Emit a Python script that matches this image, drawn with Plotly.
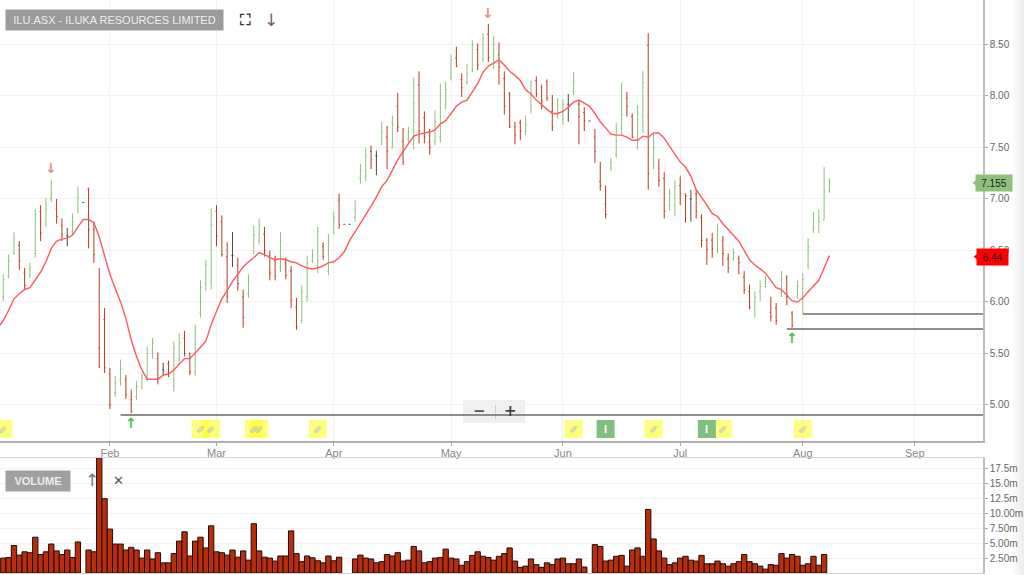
import numpy as np
import plotly.graph_objects as go

# ============================================
# DATA (one entry per trading slot)
# ============================================
highs = [6.27,6.46,6.68,6.59,6.33,6.38,6.90,6.94,7.01,7.19,7.00,6.81,6.72,6.86,7.12,6.965,7.11,6.78,6.33,5.94,
         5.36,5.28,5.44,5.29,5.15,5.23,5.31,5.57,5.65,5.51,5.41,5.43,5.62,5.70,5.72,5.51,5.78,6.21,6.41,6.91,
         6.94,6.84,6.58,6.68,6.43,6.12,6.27,6.74,6.81,6.73,6.50,6.45,6.68,6.43,6.35,6.04,6.16,6.45,6.51,6.73,
         6.58,6.66,6.88,7.05,6.754,6.754,6.99,7.34,7.50,7.52,7.47,7.75,7.71,7.81,8.03,7.69,7.70,8.18,8.24,7.85,
         7.68,7.86,8.12,8.14,8.40,8.48,8.22,8.31,8.54,8.51,8.61,8.70,8.58,8.52,8.24,8.04,7.75,7.77,7.81,8.15,
         8.19,8.11,8.16,8.01,7.98,7.97,8.02,8.23,7.96,7.89,7.757,7.68,7.36,7.13,7.40,7.74,8.13,8.04,7.83,7.91,
         8.24,8.61,7.63,7.39,7.26,7.10,7.18,7.22,7.05,7.09,7.09,6.85,6.62,6.67,6.76,6.64,6.47,6.52,6.45,6.30,
         6.17,6.10,6.21,6.25,6.05,5.99,6.30,6.26,5.91,6.21,6.28,6.62,6.87,6.90,7.31,7.20]
lows = [6.01,6.23,6.46,6.31,6.12,6.23,6.43,6.59,6.73,6.97,6.76,6.59,6.54,6.65,6.86,6.965,6.52,6.38,5.36,5.31,
        4.96,5.08,5.19,5.06,4.92,5.05,5.15,5.23,5.45,5.20,5.28,5.27,5.13,5.40,5.47,5.29,5.28,5.85,6.11,6.12,
        6.54,6.44,5.99,6.34,6.11,5.75,6.04,6.46,6.56,6.44,6.21,6.21,6.29,6.22,5.94,5.73,5.79,6.00,6.38,6.28,
        6.41,6.26,6.65,6.71,6.754,6.754,6.78,7.15,7.17,7.29,7.23,7.52,7.29,7.49,7.65,7.33,7.55,7.48,7.54,7.54,
        7.43,7.52,7.55,7.87,8.15,8.28,7.99,8.11,8.23,8.25,8.33,8.33,8.26,8.11,7.82,7.69,7.53,7.57,7.62,7.83,
        7.99,7.87,7.95,7.66,7.78,7.72,7.75,8.01,7.53,7.66,7.757,7.35,7.08,6.81,7.27,7.40,7.62,7.80,7.59,7.48,
        7.64,7.09,7.29,7.12,6.81,6.89,6.83,6.94,6.77,6.78,6.81,6.53,6.36,6.43,6.47,6.35,6.28,6.40,6.27,6.08,
        5.93,5.85,6.01,6.14,5.81,5.78,6.05,5.97,5.75,6.03,5.89,6.32,6.67,6.67,6.79,7.06]
opens = [6.05,6.25,6.47,6.55,6.28,6.26,6.47,6.88,6.76,7.00,6.90,6.74,6.64,6.68,6.90,6.965,7.10,6.70,5.55,5.83,
         5.30,5.12,5.25,5.25,5.05,5.08,5.17,5.26,5.50,5.45,5.34,5.40,5.18,5.45,5.65,5.50,5.32,5.90,6.18,6.20,
         6.88,6.78,6.44,6.45,6.36,6.05,6.08,6.50,6.60,6.66,6.45,6.40,6.33,6.38,6.30,5.95,5.82,6.05,6.40,6.35,
         6.54,6.30,6.68,6.99,6.754,6.754,6.82,7.20,7.22,7.46,7.42,7.58,7.60,7.50,7.90,7.56,7.58,7.53,8.11,7.79,
         7.55,7.56,7.60,7.92,8.18,8.37,8.16,8.13,8.25,8.45,8.36,8.60,8.31,8.40,8.17,8.02,7.70,7.74,7.65,7.90,
         8.15,8.08,8.14,7.85,7.82,7.77,7.92,8.05,7.92,7.84,7.757,7.60,7.17,6.95,7.30,7.43,7.70,7.98,7.80,7.50,
         7.80,8.49,7.40,7.30,7.20,6.94,6.94,7.13,7.05,7.00,7.05,6.82,6.60,6.60,6.51,6.60,6.42,6.42,6.42,6.24,
         6.10,5.93,6.10,6.15,5.90,5.94,6.09,6.24,5.89,6.05,6.03,6.36,6.70,6.70,6.80,7.08]
closes = [6.22,6.40,6.62,6.40,6.16,6.33,6.85,6.67,6.90,7.05,6.83,6.66,6.64,6.78,7.02,6.965,6.70,6.46,5.37,5.36,
          5.00,5.22,5.35,5.10,4.94,5.18,5.26,5.50,5.60,5.26,5.34,5.30,5.55,5.60,5.50,5.32,5.72,6.14,6.36,6.75,
          6.64,6.46,6.05,6.45,6.18,5.85,6.20,6.65,6.75,6.50,6.28,6.25,6.60,6.26,6.02,5.76,6.09,6.38,6.46,6.68,
          6.44,6.60,6.82,6.75,6.754,6.754,6.90,7.28,7.42,7.38,7.42,7.65,7.46,7.72,7.70,7.36,7.65,7.93,7.66,7.60,
          7.50,7.75,8.00,8.06,8.35,8.29,8.08,8.22,8.50,8.30,8.56,8.37,8.50,8.28,7.90,7.70,7.62,7.66,7.72,8.03,
          8.02,7.95,7.98,7.70,7.91,7.92,7.92,8.14,7.80,7.76,7.757,7.46,7.13,6.85,7.36,7.66,7.82,7.90,7.60,7.82,
          8.13,7.25,7.50,7.18,6.88,7.05,7.12,7.05,7.03,7.00,6.88,6.60,6.51,6.52,6.70,6.47,6.33,6.48,6.38,6.12,
          5.95,6.04,6.15,6.20,5.86,5.82,6.22,6.05,5.77,6.15,6.22,6.53,6.72,6.78,7.08,7.17]
# the average runs on from one slot before the first bar, off the left edge
moving_avg = [5.75,5.82,5.92,6.03,6.08,6.12,6.14,6.21,6.29,6.39,6.52,6.59,6.61,6.62,6.65,6.73,6.80,6.80,6.77,6.63,6.46,
              6.27,6.13,6.00,5.84,5.63,5.47,5.34,5.25,5.25,5.25,5.29,5.30,5.34,5.40,5.45,5.45,5.50,5.56,5.62,5.78,
              5.91,6.03,6.11,6.20,6.27,6.34,6.39,6.43,6.48,6.46,6.43,6.41,6.42,6.41,6.39,6.38,6.35,6.33,6.32,6.33,
              6.35,6.38,6.39,6.43,6.49,6.60,6.68,6.76,6.85,6.93,7.02,7.12,7.18,7.28,7.38,7.46,7.54,7.61,7.63,7.64,
              7.65,7.67,7.73,7.76,7.83,7.90,7.94,7.96,8.04,8.12,8.23,8.29,8.32,8.35,8.30,8.24,8.20,8.15,8.06,8.02,
              7.96,7.91,7.87,7.83,7.83,7.85,7.89,7.94,7.96,7.93,7.90,7.83,7.75,7.69,7.63,7.62,7.62,7.60,7.57,7.57,
              7.61,7.60,7.64,7.64,7.59,7.51,7.43,7.36,7.31,7.22,7.09,7.02,6.94,6.86,6.83,6.76,6.70,6.64,6.59,6.50,
              6.41,6.36,6.32,6.28,6.21,6.14,6.12,6.07,6.01,6.00,6.04,6.10,6.16,6.21,6.33,6.45]
# millions of shares, None on the days with no trade
volumes = [2.5,2.6,4.6,3.0,3.55,3.4,6.0,3.1,3.55,4.85,3.7,3.1,3.85,2.6,5.2,None,3.85,3.55,19.3,12.45,
           7.35,4.85,4.85,3.85,4.3,3.85,2.5,3.85,2.35,3.4,1.7,1.7,3.25,5.35,6.9,2.85,5.35,6.0,4.2,7.9,
           3.55,3.4,3.0,3.85,2.65,3.7,2.15,8.25,3.7,2.65,2.5,2.0,2.85,2.85,7.05,3.25,1.9,2.85,2.55,2.05,
           1.7,2.85,2.05,2.65,None,None,2.35,3.0,2.5,2.35,1.7,1.9,3.1,2.85,3.4,2.0,2.15,4.45,3.7,1.7,
           1.9,2.5,2.6,4.0,2.5,2.35,1.3,1.9,2.95,3.55,2.8,2.6,2.15,2.8,3.25,4.2,2.0,0.95,1.15,2.35,
           1.4,0.95,1.7,1.4,2.35,2.5,1.55,1.55,2.35,1.0,None,4.75,4.45,2.0,2.15,2.8,2.95,1.15,3.85,4.2,
           2.8,10.65,5.7,3.7,2.5,1.4,1.7,2.5,2.8,2.15,2.0,2.95,1.55,1.55,2.0,1.55,1.15,1.55,1.9,3.1,
           1.9,1.55,1.15,0.65,1.4,1.3,3.25,2.5,3.1,2.8,1.3,1.55,2.8,1.3,3.1,None]

month_labels = ["Feb", "Mar", "Apr", "May", "Jun", "Jul", "Aug", "Sep"]
month_slots = [20, 40, 62, 84, 105, 127, 150, 171]
price_ticks = [5.0, 5.5, 6.0, 6.5, 7.0, 7.5, 8.0, 8.5]
volume_ticks = [2.5, 5, 7.5, 10, 12.5, 15, 17.5]
volume_tick_text = ["2.50m", "5.00m", "7.50m", "10.00m", "12.5m", "15.0m", "17.5m"]

support_levels = [4.903, 5.883, 5.738]
support_starts = [22, 150, 147]
note_slots = [0, 37, 39, 47, 48, 59, 107, 122, 135, 150]
info_slots = [113, 132]
sell_signals = [(9, 7.19), (91, 8.70)]
buy_signals = [(24, 4.92), (148, 5.745)]
last_price = 7.155
last_average = 6.44

# ============================================
# LAYOUT HELPERS
# ============================================
W, H = 1024, 575
PLOT_R = 983
X_MIN, X_MAX = -0.62, 183.81
GREEN, RED, GREY = "#8dc277", "#bb3a1c", "#4a4a4a"


def px(x):
    return x / W


def py(y):
    return 1 - y / H


slots = np.arange(len(highs))
o, h, l, c = map(np.array, (opens, highs, lows, closes))

fig = go.Figure()

# ============================================
# TRACES
# ============================================
flat = o == c
fig.add_trace(go.Ohlc(x=slots[~flat], open=o[~flat], high=h[~flat], low=l[~flat], close=c[~flat],
                      increasing=dict(line=dict(color=GREEN, width=1)),
                      decreasing=dict(line=dict(color=RED, width=1)),
                      tickwidth=0.2, xaxis="x", yaxis="y"))
fig.add_trace(go.Ohlc(x=slots[flat], open=o[flat], high=h[flat], low=l[flat], close=c[flat],
                      increasing=dict(line=dict(color=GREY, width=1)),
                      decreasing=dict(line=dict(color=GREY, width=1)),
                      tickwidth=0.2, xaxis="x", yaxis="y"))
fig.add_trace(go.Scatter(x=np.arange(-1, len(highs)), y=moving_avg, mode="lines",
                         line=dict(color="#ff5a5f", width=1.4), xaxis="x", yaxis="y"))
for level, start in zip(support_levels, support_starts):
    fig.add_trace(go.Scatter(x=[start, X_MAX], y=[level, level], mode="lines",
                             line=dict(color="#6b6b6b", width=1.5), xaxis="x", yaxis="y"))
fig.add_trace(go.Bar(x=slots, y=volumes, width=1, marker=dict(color="#b82e0a", line=dict(color="#1c0c06", width=1)),
                     xaxis="x2", yaxis="y2"))

# last price flags: pointer on the axis, box comes from the annotations below
fig.add_trace(go.Scatter(x=[(978 - 3.3) / 5.33], y=[last_price], mode="markers", cliponaxis=False,
                         marker=dict(symbol="triangle-left", size=11, color="#8fc07a"), xaxis="x", yaxis="y"))
fig.add_trace(go.Scatter(x=[(979 - 3.3) / 5.33], y=[last_average], mode="markers", cliponaxis=False,
                         marker=dict(symbol="triangle-left", size=11, color="#ff0000"), xaxis="x", yaxis="y"))

# ============================================
# ANNOTATIONS
# ============================================
notes = []


def label(x, y, text, **kw):
    base = dict(x=x, y=y, text=text, xref="paper", yref="paper", showarrow=False, borderpad=0,
                xanchor="center", yanchor="middle",
                font=dict(family="Liberation Sans", size=11, color="#555555"))
    base.update(kw)
    notes.append(base)


label(px(114.5), py(20), "ILU.ASX - ILUKA RESOURCES LIMITED", bgcolor="#9b9b9b", width=217, height=20,
      font=dict(family="Liberation Sans", size=11, color="#ededed"))
label(px(38), py(480.5), "<b>VOLUME</b>", bgcolor="#a0a0a0", width=64, height=20,
      font=dict(family="Liberation Sans", size=11, color="#ededed"))
label(px(244.5), py(20), "<b>⛶</b>", font=dict(family="DejaVu Sans", size=15, color="#333333"))
label(px(270.5), py(20), "↓", font=dict(family="DejaVu Sans", size=17, color="#666666"))
label(px(91.5), py(480), "↑", font=dict(family="DejaVu Sans", size=17, color="#777777"))
label(px(118), py(480), "✕", font=dict(family="DejaVu Sans", size=13, color="#555555"))
label(px(479), py(411), "<b>−</b>", font=dict(family="DejaVu Sans", size=15, color="#555555"))
label(px(510), py(411), "<b>+</b>", font=dict(family="DejaVu Sans", size=15, color="#444444"))

for slot in note_slots:
    label(slot, py(429), "✏", xref="x", textangle=-45,
          font=dict(family="DejaVu Sans", size=11, color="#bdbdbd"))
for slot in info_slots:
    label(slot, py(429), "<b>I</b>", xref="x", font=dict(family="Liberation Sans", size=11, color="#ffffff"))
for slot, price in sell_signals:
    label(slot, price, "<b>↓</b>", xref="x", yref="y", yshift=11,
          font=dict(family="DejaVu Sans", size=14, color="#f08a8a"))
for slot, price in buy_signals:
    label(slot, price, "<b>↑</b>", xref="x", yref="y", yshift=-10,
          font=dict(family="DejaVu Sans", size=14, color="#35c84a"))

label(px(993.5), last_price, "7.155", yref="y", bgcolor="#8fc07a", width=36, height=16,
      font=dict(family="Liberation Sans", size=10, color="#222222"))
label(px(992.5), last_average, "6.44", yref="y", bgcolor="#ff0000", width=31, height=16,
      font=dict(family="Liberation Sans", size=10, color="#222222"))

# ============================================
# SHAPES
# ============================================
shapes = [dict(type="rect", xref="paper", yref="paper", x0=px(463), x1=px(525), y0=py(423), y1=py(400),
               fillcolor="#f0f0f0", line=dict(width=0), layer="below"),
          dict(type="line", xref="paper", yref="paper", x0=px(495.5), x1=px(495.5), y0=py(419), y1=py(404),
               line=dict(color="#d0d0d0", width=1), layer="below")]
# faded edge on the right of the page
for i, shade in enumerate(["#fcfcfc", "#f9f9f9", "#f6f6f6", "#f3f3f3", "#f0f0f0", "#ededed"]):
    shapes.append(dict(type="rect", xref="paper", yref="paper", x0=px(1012 + 2 * i), x1=px(1014 + 2 * i),
                       y0=0, y1=1, fillcolor=shade, line=dict(width=0), layer="below"))
# event badges under the bars, fixed size in pixels
for slot, fill in [(s, "rgba(255,255,40,0.6)") for s in note_slots] + [(s, "#7fbf7f") for s in info_slots]:
    shapes.append(dict(type="rect", xref="x", yref="paper", xsizemode="pixel", xanchor=slot, x0=-9, x1=9,
                       y0=py(438), y1=py(420), fillcolor=fill, line=dict(width=0), layer="above"))

# ============================================
# FIGURE LAYOUT
# ============================================
tick_font = dict(family="Liberation Sans", size=10, color="#666666")
fig.update_layout(
    width=W, height=H, margin=dict(l=0, r=0, t=0, b=0), autosize=False,
    paper_bgcolor="white", plot_bgcolor="white", showlegend=False,
    annotations=notes, shapes=shapes, dragmode=False,
    xaxis=dict(domain=[0, px(PLOT_R)], range=[X_MIN, X_MAX], tickvals=month_slots, ticktext=month_labels,
               showgrid=True, gridcolor="#f2f2f2", gridwidth=1, zeroline=False, rangeslider=dict(visible=False),
               showline=True, linecolor="#b0b0b0", linewidth=1.5, ticks="outside", ticklen=3, tickcolor="#aaaaaa",
               ticklabelstandoff=-2,
               tickfont=dict(family="Liberation Sans", size=11, color="#888888")),
    yaxis=dict(domain=[py(441), 1], range=[4.65, 8.932], side="right", tickvals=price_ticks, tickformat=".2f",
               showgrid=True, gridcolor="#f2f2f2", gridwidth=1, zeroline=False,
               showline=True, linecolor="#bdbdbd", linewidth=1.5, ticks="outside", ticklen=3, tickcolor="#aaaaaa",
               tickfont=tick_font),
    xaxis2=dict(domain=[0, px(PLOT_R)], range=[X_MIN, X_MAX], anchor="y2", showticklabels=False, showgrid=False,
                zeroline=False, showline=True, mirror=True, linecolor="#d4d4d4", linewidth=1, ticks=""),
    yaxis2=dict(domain=[py(573), py(457.5)], range=[0, 19.35], side="right", anchor="x2",
                tickvals=volume_ticks, ticktext=volume_tick_text,
                showgrid=True, gridcolor="#f2f2f2", gridwidth=1, zeroline=False,
                showline=True, linecolor="#bdbdbd", linewidth=1.5, ticks="outside", ticklen=3, tickcolor="#aaaaaa",
                tickfont=tick_font),
)

fig.write_html("out.html", config=dict(displayModeBar=False),
               post_script="document.body.style.margin='0';document.body.style.overflow='hidden';")
